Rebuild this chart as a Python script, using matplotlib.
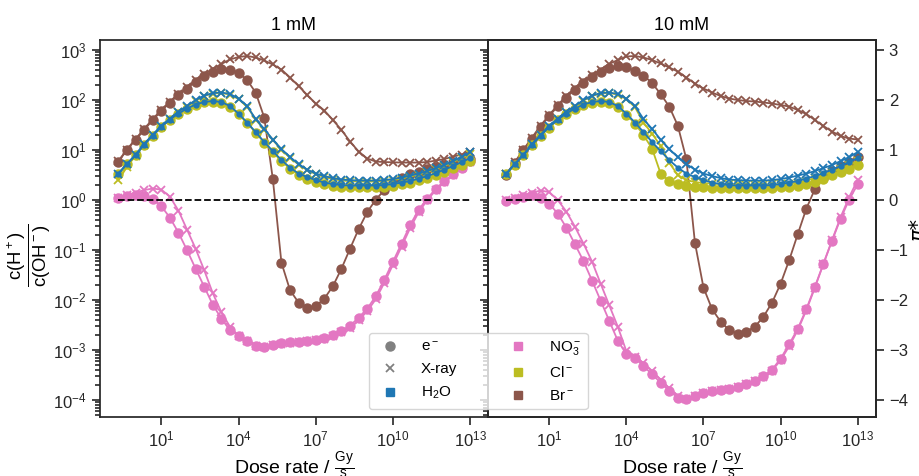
import numpy as np
import matplotlib.pyplot as plt
from matplotlib.lines import Line2D
from matplotlib.ticker import NullLocator, LogLocator

plt.rcParams['font.family'] = ['Liberation Sans', 'DejaVu Sans']
plt.rcParams['mathtext.fontset'] = 'custom'
plt.rcParams['mathtext.rm'] = 'Liberation Sans'
plt.rcParams['mathtext.it'] = 'Liberation Sans:italic'
plt.rcParams['mathtext.bf'] = 'Liberation Sans:bold'
plt.rcParams['mathtext.default'] = 'regular'

# dose rate grid, 3 points per decade
dose = np.logspace(-2 / 3, 13, 42)

# log10 of c(H+)/c(OH-)  (= pi*)
h2o_e = [0.53, 0.72, 0.90, 1.10, 1.29, 1.46, 1.61, 1.73, 1.83, 1.91, 1.96, 1.98, 1.96, 1.88,
         1.73, 1.55, 1.36, 1.16, 0.98, 0.80, 0.65, 0.53, 0.46, 0.40, 0.35, 0.32, 0.30, 0.29,
         0.29, 0.29, 0.29, 0.30, 0.32, 0.35, 0.38, 0.43, 0.48, 0.54, 0.61, 0.68, 0.76, 0.84]
h2o_x = [0.53, 0.72, 0.91, 1.12, 1.31, 1.48, 1.63, 1.77, 1.88, 2.00, 2.09, 2.14, 2.15, 2.12,
         2.03, 1.88, 1.62, 1.42, 1.21, 1.02, 0.86, 0.72, 0.61, 0.53, 0.48, 0.44, 0.41, 0.40,
         0.39, 0.39, 0.39, 0.40, 0.42, 0.45, 0.49, 0.53, 0.58, 0.64, 0.70, 0.78, 0.86, 0.96]

# 1 mM
no3_e_1 = [0.05, 0.09, 0.10, 0.09, 0.02, -0.12, -0.35, -0.65, -1.00, -1.37, -1.73, -2.09, -2.37, -2.60,
           -2.71, -2.81, -2.91, -2.93, -2.89, -2.86, -2.84, -2.83, -2.81, -2.79, -2.75, -2.69, -2.61, -2.51,
           -2.35, -2.17, -1.92, -1.59, -1.23, -0.87, -0.50, -0.19, 0.03, 0.23, 0.38, 0.52, 0.65, 0.78]
no3_x_1 = [0.05, 0.10, 0.15, 0.20, 0.23, 0.21, 0.07, -0.21, -0.59, -0.97, -1.40, -1.86, -2.24, -2.53,
           -2.72, -2.82, -2.92, -2.94, -2.90, -2.87, -2.85, -2.84, -2.82, -2.80, -2.77, -2.71, -2.64, -2.55,
           -2.40, -2.22, -1.98, -1.65, -1.29, -0.93, -0.56, -0.24, 0.00, 0.20, 0.36, 0.50, 0.64, 0.77]
cl_e_1 = [0.53, 0.72, 0.90, 1.10, 1.29, 1.46, 1.61, 1.73, 1.83, 1.91, 1.96, 1.97, 1.95, 1.87,
          1.72, 1.54, 1.35, 1.15, 0.96, 0.78, 0.63, 0.51, 0.43, 0.37, 0.32, 0.29, 0.27, 0.26,
          0.26, 0.26, 0.26, 0.27, 0.29, 0.32, 0.35, 0.40, 0.45, 0.51, 0.57, 0.64, 0.71, 0.79]
cl_x_1 = [0.40, 0.66, 0.89, 1.11, 1.30, 1.47, 1.62, 1.76, 1.87, 1.99, 2.08, 2.13, 2.14, 2.11,
          2.02, 1.87, 1.61, 1.41, 1.20, 1.01, 0.85, 0.71, 0.60, 0.52, 0.46, 0.42, 0.39, 0.38,
          0.37, 0.37, 0.37, 0.38, 0.40, 0.43, 0.47, 0.51, 0.56, 0.62, 0.68, 0.76, 0.84, 0.93]
br_e_1 = [0.77, 1.00, 1.21, 1.40, 1.60, 1.78, 1.95, 2.10, 2.23, 2.37, 2.49, 2.57, 2.62, 2.61,
          2.55, 2.40, 2.15, 1.65, 0.42, -1.25, -1.80, -2.05, -2.15, -2.12, -1.97, -1.72, -1.37, -0.97,
          -0.58, -0.24, 0.01, 0.20, 0.35, 0.45, 0.52, 0.57, 0.62, 0.66, 0.70, 0.74, 0.78, 0.82]
br_x_1 = [0.78, 1.01, 1.22, 1.42, 1.62, 1.80, 1.97, 2.12, 2.26, 2.40, 2.52, 2.62, 2.72, 2.81,
          2.86, 2.88, 2.85, 2.79, 2.71, 2.61, 2.45, 2.28, 2.10, 1.93, 1.79, 1.60, 1.40, 1.17,
          0.97, 0.83, 0.77, 0.76, 0.755, 0.75, 0.75, 0.75, 0.76, 0.79, 0.82, 0.87, 0.91, 0.97]

# 10 mM
no3_e_10 = [-0.01, 0.03, 0.07, 0.11, 0.05, -0.07, -0.27, -0.55, -0.88, -1.22, -1.61, -2.01, -2.41, -2.81,
            -3.08, -3.15, -3.32, -3.48, -3.65, -3.81, -3.95, -3.98, -3.92, -3.85, -3.82, -3.80, -3.78, -3.73,
            -3.68, -3.61, -3.52, -3.39, -3.17, -2.88, -2.57, -2.18, -1.73, -1.27, -0.81, -0.37, 0.01, 0.32]
no3_x_10 = [0.00, 0.05, 0.10, 0.15, 0.19, 0.16, 0.00, -0.23, -0.53, -0.87, -1.23, -1.67, -2.10, -2.53,
            -3.02, -3.13, -3.26, -3.42, -3.59, -3.76, -3.91, -3.97, -3.91, -3.85, -3.82, -3.80, -3.77, -3.73,
            -3.68, -3.61, -3.53, -3.41, -3.20, -2.92, -2.60, -2.20, -1.75, -1.27, -0.80, -0.34, 0.06, 0.41]
cl_e_10 = [0.52, 0.71, 0.90, 1.10, 1.29, 1.45, 1.60, 1.72, 1.82, 1.90, 1.95, 1.96, 1.94, 1.86,
           1.71, 1.53, 1.30, 1.03, 0.53, 0.38, 0.32, 0.29, 0.27, 0.255, 0.25, 0.245, 0.245, 0.245,
           0.245, 0.245, 0.245, 0.25, 0.255, 0.27, 0.29, 0.32, 0.37, 0.43, 0.50, 0.57, 0.63, 0.70]
cl_x_10 = [0.52, 0.71, 0.90, 1.11, 1.30, 1.47, 1.62, 1.76, 1.87, 1.99, 2.08, 2.13, 2.14, 2.11,
           2.02, 1.86, 1.55, 1.33, 1.08, 0.75, 0.50, 0.40, 0.36, 0.34, 0.33, 0.32, 0.32, 0.315,
           0.31, 0.31, 0.31, 0.315, 0.32, 0.33, 0.35, 0.39, 0.44, 0.50, 0.56, 0.63, 0.70, 0.78]
br_e_10 = [0.51, 0.75, 1.00, 1.23, 1.47, 1.68, 1.88, 2.05, 2.21, 2.35, 2.47, 2.56, 2.63, 2.67,
           2.65, 2.59, 2.49, 2.34, 2.12, 1.87, 1.49, 0.82, -0.85, -1.75, -2.18, -2.43, -2.60, -2.67,
           -2.63, -2.53, -2.33, -2.05, -1.67, -1.20, -0.68, -0.17, 0.22, 0.45, 0.58, 0.68, 0.77, 0.86]
br_x_10 = [0.52, 0.76, 1.01, 1.25, 1.49, 1.70, 1.90, 2.08, 2.24, 2.38, 2.50, 2.61, 2.72, 2.80,
           2.87, 2.88, 2.85, 2.80, 2.73, 2.65, 2.57, 2.45, 2.33, 2.23, 2.15, 2.08, 2.03, 2.00,
           1.98, 1.97, 1.95, 1.93, 1.90, 1.87, 1.80, 1.72, 1.60, 1.48, 1.37, 1.28, 1.23, 1.21]

c_h2o, c_no3, c_cl, c_br = '#1f77b4', '#e377c2', '#bcbd22', '#8c564b'
dark = '#262626'

panels = [
    ('1 mM', [(c_br, br_e_1, br_x_1, 6.5), (c_no3, no3_e_1, no3_x_1, 6.5),
              (c_cl, cl_e_1, cl_x_1, 6.5), (c_h2o, h2o_e, h2o_x, 3.5)]),
    ('10 mM', [(c_br, br_e_10, br_x_10, 6.5), (c_no3, no3_e_10, no3_x_10, 6.5),
               (c_cl, cl_e_10, cl_x_10, 6.5), (c_h2o, h2o_e, h2o_x, 3.5)]),
]

ylo, yhi = -4.33, 3.2
fig = plt.figure(figsize=(9.19, 4.76), dpi=100)
ax1 = fig.add_axes([0.1088, 0.1246, 0.4222, 0.7914])
ax2 = fig.add_axes([0.531, 0.1246, 0.4217, 0.7914], sharey=ax1)

for ax, (title, series) in zip([ax1, ax2], panels):
    for color, ev, xv, ms in series:
        ax.plot(dose, 10 ** np.array(ev), '-o', color=color, ms=ms, lw=1.3)
        ax.plot(dose, 10 ** np.array(xv), '-x', color=color, ms=6, mew=1.3, lw=1.3)
    ax.plot([dose[0], dose[-1]], [1, 1], '--', color='k', lw=1.3)
    ax.set_xscale('log')
    ax.set_yscale('log')
    ax.set_xlim(10 ** -1.38, 10 ** 13.69)
    ax.set_xticks([1e1, 1e4, 1e7, 1e10, 1e13])
    ax.xaxis.set_minor_locator(NullLocator())
    ax.set_title(title, fontsize=13, pad=7)
    ax.set_xlabel(r'Dose rate / $\frac{Gy}{s}$', fontsize=14, labelpad=0)
    for sp in ax.spines.values():
        sp.set_linewidth(1.25)
        sp.set_color(dark)
    ax.tick_params(which='both', direction='out', colors=dark, labelsize=12, width=1.2)
    ax.tick_params(which='major', length=6)
    ax.tick_params(which='minor', length=3.5)

ax1.set_ylim(10 ** ylo, 10 ** yhi)
ax1.yaxis.set_major_locator(LogLocator(base=10, numticks=20))
ax1.yaxis.set_minor_locator(LogLocator(base=10, subs=np.arange(2, 10), numticks=20))
ax1.set_ylabel(r'$\frac{c(\mathrm{H}^+)}{c(\mathrm{OH}^-)}$', fontsize=19)
ax1.yaxis.set_label_coords(-0.121, 0.43)
ax2.tick_params(axis='y', which='both', left=False, labelleft=False)

axr = ax2.twinx()
axr.set_ylim(ylo, yhi)
axr.set_yticks(range(-4, 4))
axr.set_yticklabels(['\u2212%d' % -v if v < 0 else str(v) for v in range(-4, 4)])
axr.tick_params(direction='out', colors=dark, labelsize=12, width=1.2, length=6)
axr.set_ylabel('\u03c0*', fontsize=15, labelpad=0, fontstyle='italic', family=['DejaVu Sans'])
for sp in axr.spines.values():
    sp.set_linewidth(1.25)
    sp.set_color(dark)

handles = [
    Line2D([], [], ls='none', marker='o', color='gray', ms=6.5),
    Line2D([], [], ls='none', marker='x', color='gray', ms=6, mew=1.3),
    Line2D([], [], ls='none', marker='s', color=c_h2o, ms=5.5),
    Line2D([], [], ls='none', marker='s', color=c_no3, ms=5.5),
    Line2D([], [], ls='none', marker='s', color=c_cl, ms=5.5),
    Line2D([], [], ls='none', marker='s', color=c_br, ms=5.5),
]
labels = ['e$^-$', 'X-ray', 'H$_2$O', 'NO$_3^-$', 'Cl$^-$', 'Br$^-$']
fig.legend(handles, labels, ncol=2, loc='lower left', bbox_to_anchor=(369 / 919, 67 / 476),
           fontsize=11, handletextpad=1.0, columnspacing=3.0, labelspacing=0.55,
           framealpha=0.8, edgecolor='0.8', fancybox=True, borderaxespad=0)

fig.savefig('out.png', dpi=100)
